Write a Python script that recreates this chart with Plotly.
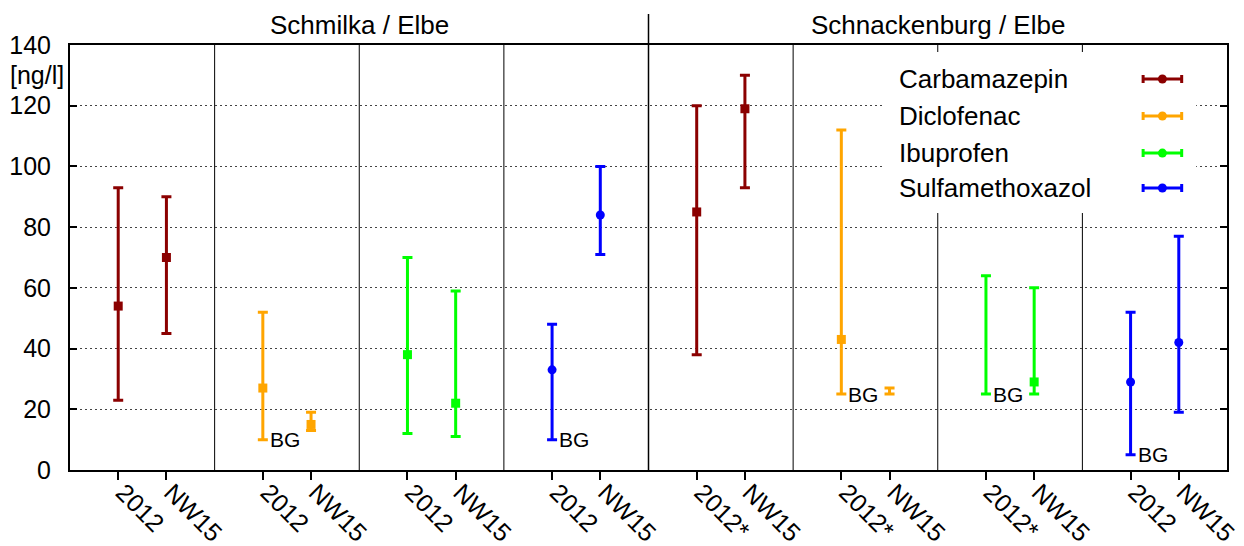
import plotly.graph_objects as go

# Measured concentrations [ng/l]; order per substance:
# Schmilka 2012, Schmilka NW15, Schnackenburg 2012, Schnackenburg NW15
substances = ["Carbamazepin", "Diclofenac", "Ibuprofen", "Sulfamethoxazol"]
colors = ["#8b0000", "#ffa500", "#00ff00", "#0000ff"]
symbols = ["square", "square", "square", "circle"]
sites = ["Schmilka / Elbe", "Schnackenburg / Elbe"]

carba_mean = [54, 70, 85, 119]
carba_low = [23, 45, 38, 93]
carba_high = [93, 90, 120, 130]

diclo_mean = [27, 15, 43, None]
diclo_low = [10, 13, 25, 25]
diclo_high = [52, 19, 112, 27]

ibu_mean = [38, 22, None, 29]
ibu_low = [12, 11, 25, 25]
ibu_high = [70, 59, 64, 60]

sulfa_mean = [33, 84, 29, 42]
sulfa_low = [10, 71, 5, 19]
sulfa_high = [48, 100, 52, 77]

# lower bound is the detection limit ("BG")
carba_bg = [False, False, False, False]
diclo_bg = [True, False, True, False]
ibu_bg = [False, False, True, False]
sulfa_bg = [True, False, True, False]

tick_labels = ["2012", "NW15"] * 4 + ["2012*", "NW15", "2012*", "NW15",
                                      "2012*", "NW15", "2012", "NW15"]

means = [carba_mean, diclo_mean, ibu_mean, sulfa_mean]
lows = [carba_low, diclo_low, ibu_low, sulfa_low]
highs = [carba_high, diclo_high, ibu_high, sulfa_high]
bgs = [carba_bg, diclo_bg, ibu_bg, sulfa_bg]

FONT = "Liberation Sans, Arial, sans-serif"
n_groups = 8


def xpos(site, sub, j):
    group = site * 4 + sub
    return group * 3 + 1 + j


fig = go.Figure()
annotations = []

for s, name in enumerate(substances):
    xs, lo, span, mx, my = [], [], [], [], []
    for k in range(4):
        site, j = divmod(k, 2)
        x = xpos(site, s, j)
        xs.append(x)
        lo.append(lows[s][k])
        span.append(highs[s][k] - lows[s][k])
        if means[s][k] is not None:
            mx.append(x)
            my.append(means[s][k])
        if bgs[s][k]:
            annotations.append(dict(
                x=x, y=lows[s][k], xref="x", yref="y", text="BG",
                showarrow=False, xanchor="left", yanchor="middle", xshift=5,
                font=dict(family=FONT, size=21, color="black")))
    # min-max range
    fig.add_trace(go.Scatter(
        x=xs, y=lo, mode="markers", marker=dict(size=1, opacity=0, color=colors[s]),
        error_y=dict(type="data", symmetric=False, array=span,
                     arrayminus=[0] * len(span), color=colors[s],
                     thickness=3, width=5),
        showlegend=False, hoverinfo="skip"))
    # mean value
    fig.add_trace(go.Scatter(
        x=mx, y=my, mode="markers",
        marker=dict(size=9, color=colors[s], symbol=symbols[s]),
        showlegend=False, name=name))

# key drawn in the upper right box
key_rows = [128.8, 116.6, 104.4, 92.9]
for s in range(4):
    fig.add_trace(go.Scatter(
        x=[22.66], y=[key_rows[s]], mode="markers",
        marker=dict(size=9, color=colors[s], symbol="circle"),
        error_x=dict(type="constant", value=0.4, thickness=3, width=4, color=colors[s]),
        showlegend=False, hoverinfo="skip"))
    annotations.append(dict(
        x=17.22, y=key_rows[s], xref="x", yref="y", text=substances[s],
        showarrow=False, xanchor="left", yanchor="middle", xshift=-3,
        font=dict(family=FONT, size=26, color="black")))

shapes = []
for g in range(1, n_groups):
    if g == 4:
        continue
    shapes.append(dict(type="line", xref="x", yref="paper", x0=g * 3, x1=g * 3,
                       y0=0, y1=1, line=dict(color="black", width=1), layer="below"))
# site divider reaching up between the headings
shapes.append(dict(type="line", xref="x", yref="paper", x0=12, x1=12, y0=0, y1=1.073,
                   line=dict(color="black", width=1.5), layer="above"))
# white key box
shapes.append(dict(type="rect", xref="x", yref="y", x0=16.86, x1=23.36, y0=84.7, y1=137.7,
                   fillcolor="white", line=dict(width=0), layer="between"))

for i, site in enumerate(sites):
    annotations.append(dict(
        x=6 + 12 * i, y=1, xref="x", yref="paper", text=site, showarrow=False,
        xanchor="center", yanchor="bottom", yshift=3,
        font=dict(family=FONT, size=26, color="black")))

annotations.append(dict(
    x=0, y=130, xref="paper", yref="y", text="[ng/l]", showarrow=False,
    xanchor="right", yanchor="middle", xshift=-4,
    font=dict(family=FONT, size=25, color="black")))

fig.update_layout(
    width=1244, height=546,
    margin=dict(l=70, r=17, t=45, b=76),
    paper_bgcolor="white", plot_bgcolor="white",
    font=dict(family=FONT, size=25, color="black"),
    shapes=shapes, annotations=annotations,
    xaxis=dict(
        range=[0, n_groups * 3],
        tickvals=[xpos(i // 8, (i % 8) // 2, i % 2) for i in range(16)],
        ticktext=tick_labels, tickangle=45,
        ticks="outside", ticklen=8, tickwidth=1.5, tickcolor="black",
        showline=True, linecolor="black", linewidth=2, mirror=True,
        showgrid=False, zeroline=False, automargin=False,
        ticklabelstandoff=-12, ticklabelshift=5,
        tickfont=dict(family=FONT, size=25, color="black")),
    yaxis=dict(
        range=[0, 140], tickvals=[0, 20, 40, 60, 80, 100, 120, 140],
        ticks="inside", ticklen=7, tickwidth=1.5, tickcolor="black",
        showline=True, linecolor="black", linewidth=2, mirror="ticks",
        showgrid=True, gridcolor="#444444", gridwidth=1, griddash="2px,3px",
        zeroline=False, automargin=False, ticklabelstandoff=12,
        tickfont=dict(family=FONT, size=25, color="black")),
)

fig.write_html("out.html")
